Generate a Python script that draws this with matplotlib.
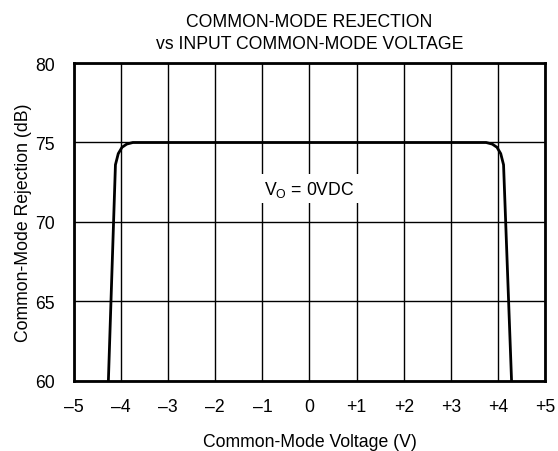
import numpy as np
import matplotlib
matplotlib.use('Agg')
import matplotlib.pyplot as plt

plt.rcParams['font.family'] = ['Liberation Sans', 'DejaVu Sans']

# curve
v_cm = [-4.27, -4.12, -4.06, -3.98, -3.88, -3.75, -3.6,
        3.6, 3.75, 3.88, 3.98, 4.06, 4.12, 4.29]
cmr = [60.0, 73.6, 74.3, 74.7, 74.9, 75.0, 75.0,
       75.0, 75.0, 74.9, 74.7, 74.3, 73.6, 60.0]

xticks = [-5, -4, -3, -2, -1, 0, 1, 2, 3, 4, 5]
xlabels = ['\u20135', '\u20134', '\u20133', '\u20132', '\u20131', '0',
           '+1', '+2', '+3', '+4', '+5']
yticks = [60, 65, 70, 75, 80]

fs = 12.7

fig = plt.figure(figsize=(5.58, 4.52), dpi=100)
ax = fig.add_axes([0.1326, 0.1549, 0.8441, 0.7035])

ax.plot(v_cm, cmr, color='black', lw=2.0, solid_joinstyle='round', zorder=3)

ax.set_xlim(-5, 5)
ax.set_ylim(60, 80)
ax.set_xticks(xticks)
ax.set_xticklabels(xlabels)
ax.set_yticks(yticks)
ax.grid(True, color='black', lw=1.0)
ax.tick_params(length=0, labelsize=fs)
ax.tick_params(axis='x', pad=12)
ax.tick_params(axis='y', pad=14)
for s in ax.spines.values():
    s.set_linewidth(2.0)

ax.set_xlabel('Common-Mode Voltage (V)', fontsize=fs, labelpad=13)
ax.set_ylabel('Common-Mode Rejection (dB)', fontsize=fs, labelpad=2)
ax.set_title('COMMON-MODE REJECTION\nvs INPUT COMMON-MODE VOLTAGE',
             fontsize=fs, pad=11, linespacing=1.4)

ax.text(0, 72.1, '$\\mathregular{V_O}$ = 0VDC', ha='center', va='center',
        fontsize=fs, zorder=4,
        bbox=dict(facecolor='white', edgecolor='none', pad=3))

plt.savefig('out.png', dpi=100)
